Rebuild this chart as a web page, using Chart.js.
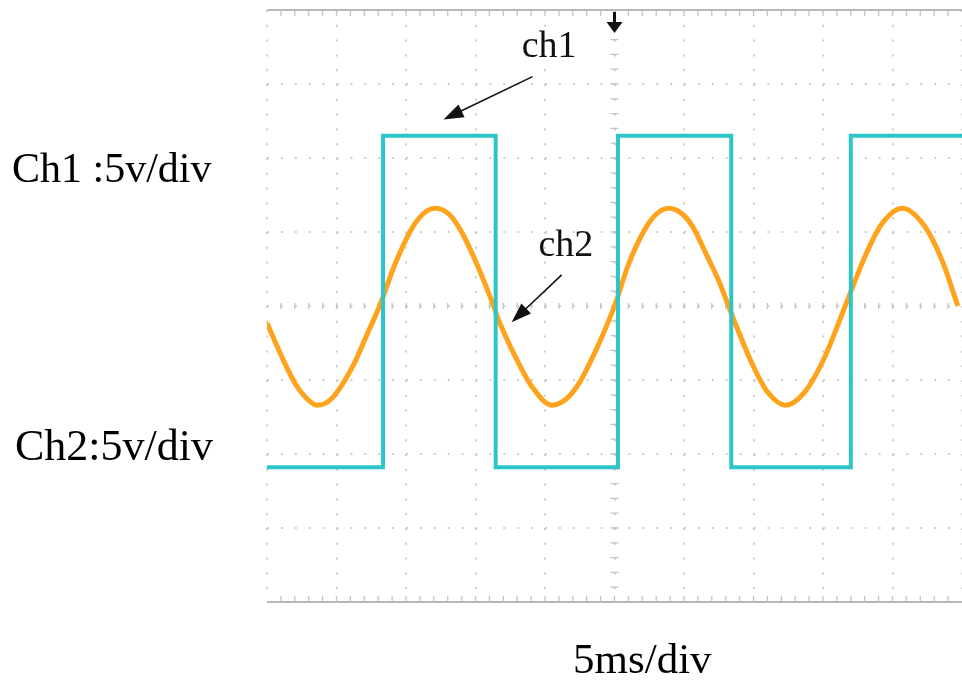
<!DOCTYPE html>
<html>
<head>
<meta charset="utf-8">
<script src="https://cdn.jsdelivr.net/npm/chart.js@4/dist/chart.umd.min.js"></script>
<style>
  html, body { margin: 0; padding: 0; background: #fff; overflow: hidden; }
  canvas { display: block; }
</style>
</head>
<body>
<canvas id="chart" width="962" height="684"></canvas>
<script>
// time in ms (5 ms/div), voltage in V (5 V/div)
const xTicks = [0, 5, 10, 15, 20, 25, 30, 35, 40, 45, 50];
const yTicks = [-20, -15, -10, -5, 0, 5, 10, 15, 20];

// ch1 : square wave
const ch1Time = [0, 8.35, 8.35, 16.45, 16.45, 25.25, 25.25, 33.4, 33.4, 42.0, 42.0, 50];
const ch1Volt = [-10.9, -10.9, 11.5, 11.5, -10.9, -10.9, 11.5, 11.5, -10.9, -10.9, 11.5, 11.5];

// ch2 : sine-like trace
const ch2Time = [0, 1.1, 2.0, 2.8, 3.6, 4.6, 6.1, 7.3, 8.1, 9.2, 10.4, 11.2, 12.1, 13.1, 14.0, 15.2, 16.3,
  16.6, 17.8, 19.1, 20.5, 21.5, 22.4, 23.8, 25.0, 26.0, 27.2, 28.0, 28.9, 29.9, 30.6, 31.7, 32.5, 33.2,
  33.7, 34.9, 36.0, 37.3, 38.7, 40.1, 41.6, 43.0, 44.2, 45.7, 47.3, 48.6, 49.7];
const ch2Volt = [-1.15, -3.5, -5.2, -6.2, -6.7, -6.3, -4.2, -1.7, 0, 2.8, 5.2, 6.2, 6.6, 6.2, 5.0, 2.6, 0,
  -0.8, -3.3, -5.5, -6.7, -6.3, -5.3, -2.7, 0, 2.8, 5.2, 6.2, 6.6, 6.2, 5.4, 3.3, 1.7, 0,
  -1.2, -3.9, -5.8, -6.7, -5.8, -3.5, 0, 3.3, 5.5, 6.6, 5.4, 3.0, 0];

const toPoints = (xs, ys) => xs.map((t, i) => ({ x: t, y: ys[i] }));

const serif = '"Liberation Serif", "Times New Roman", serif';

function arrow(ctx, x1, y1, x2, y2, head) {
  const ang = Math.atan2(y2 - y1, x2 - x1);
  ctx.beginPath();
  ctx.moveTo(x1, y1);
  ctx.lineTo(x2 - Math.cos(ang) * head * 0.8, y2 - Math.sin(ang) * head * 0.8);
  ctx.stroke();
  ctx.beginPath();
  ctx.moveTo(x2, y2);
  ctx.lineTo(x2 - head * Math.cos(ang) + head * 0.35 * Math.sin(ang), y2 - head * Math.sin(ang) - head * 0.35 * Math.cos(ang));
  ctx.lineTo(x2 - head * Math.cos(ang) - head * 0.35 * Math.sin(ang), y2 - head * Math.sin(ang) + head * 0.35 * Math.cos(ang));
  ctx.closePath();
  ctx.fill();
}

// screen frame, center ticks, trigger mark
const scopeFrame = {
  id: 'scopeFrame',
  beforeDatasetsDraw(chart) {
    const { ctx, chartArea: a, scales: { x, y } } = chart;
    ctx.save();
    ctx.strokeStyle = '#b8b8b8';
    ctx.lineWidth = 2;
    ctx.beginPath();
    ctx.moveTo(a.left, a.top); ctx.lineTo(a.right, a.top);
    ctx.moveTo(a.left, a.bottom); ctx.lineTo(a.right, a.bottom);
    ctx.stroke();

    ctx.strokeStyle = '#c4c4c4';
    ctx.lineWidth = 1.3;
    ctx.beginPath();
    const cy = y.getPixelForValue(0);
    for (let t = 1; t < 50; t++) {
      const px = x.getPixelForValue(t);
      ctx.moveTo(px, a.top); ctx.lineTo(px, a.top + 6);
      ctx.moveTo(px, a.bottom); ctx.lineTo(px, a.bottom - 6);
      ctx.moveTo(px, cy - 3); ctx.lineTo(px, cy + 3);
    }
    const cx = x.getPixelForValue(25);
    for (let v = -19; v < 20; v++) {
      const py = y.getPixelForValue(v);
      ctx.moveTo(cx - 4, py); ctx.lineTo(cx + 4, py);
    }
    ctx.stroke();

    // trigger position marker
    ctx.fillStyle = '#111';
    ctx.fillRect(cx - 1.5, a.top + 2, 3, 11);
    ctx.beginPath();
    ctx.moveTo(cx - 8, a.top + 12);
    ctx.lineTo(cx + 8, a.top + 12);
    ctx.lineTo(cx, a.top + 23);
    ctx.closePath();
    ctx.fill();
    ctx.restore();
  },
  afterDatasetsDraw(chart) {
    const { ctx, scales: { x, y } } = chart;
    ctx.save();
    ctx.fillStyle = '#111';
    ctx.strokeStyle = '#111';
    ctx.lineWidth = 1.6;
    ctx.font = '38px ' + serif;
    ctx.textAlign = 'center';
    ctx.textBaseline = 'alphabetic';
    ctx.fillText('ch1', x.getPixelForValue(20.3), y.getPixelForValue(16.8));
    arrow(ctx, x.getPixelForValue(19.1), y.getPixelForValue(15.5),
      x.getPixelForValue(12.7), y.getPixelForValue(12.6), 20);
    ctx.fillText('ch2', x.getPixelForValue(21.5), y.getPixelForValue(3.4));
    arrow(ctx, x.getPixelForValue(21.2), y.getPixelForValue(2.1),
      x.getPixelForValue(17.6), y.getPixelForValue(-1.1), 20);
    ctx.restore();
  },
  afterDraw(chart) {
    const { ctx } = chart;
    ctx.save();
    ctx.fillStyle = '#000';
    ctx.textBaseline = 'alphabetic';
    ctx.textAlign = 'left';
    ctx.font = '42px ' + serif;
    ctx.fillText('Ch1 :5v/div', 12, 182);
    ctx.font = '44px ' + serif;
    ctx.fillText('Ch2:5v/div', 15, 460);
    ctx.font = '43px ' + serif;
    ctx.fillText('5ms/div', 573, 673);
    ctx.restore();
  }
};

new Chart(document.getElementById('chart').getContext('2d'), {
  type: 'scatter',
  data: {
    datasets: [
      {
        label: 'ch1',
        data: toPoints(ch1Time, ch1Volt),
        showLine: true,
        borderColor: '#2cc6c8',
        borderWidth: 4,
        pointRadius: 0,
        tension: 0,
      },
      {
        label: 'ch2',
        data: toPoints(ch2Time, ch2Volt),
        showLine: true,
        borderColor: '#ffa21c',
        borderWidth: 5,
        pointRadius: 0,
        cubicInterpolationMode: 'monotone',
      },
    ],
  },
  options: {
    responsive: false,
    animation: false,
    layout: { padding: { left: 267, top: 10, right: 0, bottom: 82 } },
    plugins: { legend: { display: false }, tooltip: { enabled: false } },
    scales: {
      x: {
        type: 'linear', min: 0, max: 50,
        afterBuildTicks: s => { s.ticks = xTicks.map(v => ({ value: v })); },
        ticks: { display: false },
        grid: { color: '#cdcdcd', lineWidth: 2, drawTicks: false },
        border: { display: false, dash: [2, 12.8] },
      },
      y: {
        type: 'linear', min: -20, max: 20,
        afterBuildTicks: s => { s.ticks = yTicks.map(v => ({ value: v })); },
        ticks: { display: false },
        grid: { color: '#cdcdcd', lineWidth: 2, drawTicks: false },
        border: { display: false, dash: [2, 11.9] },
      },
    },
  },
  plugins: [scopeFrame],
});
</script>
</body>
</html>
